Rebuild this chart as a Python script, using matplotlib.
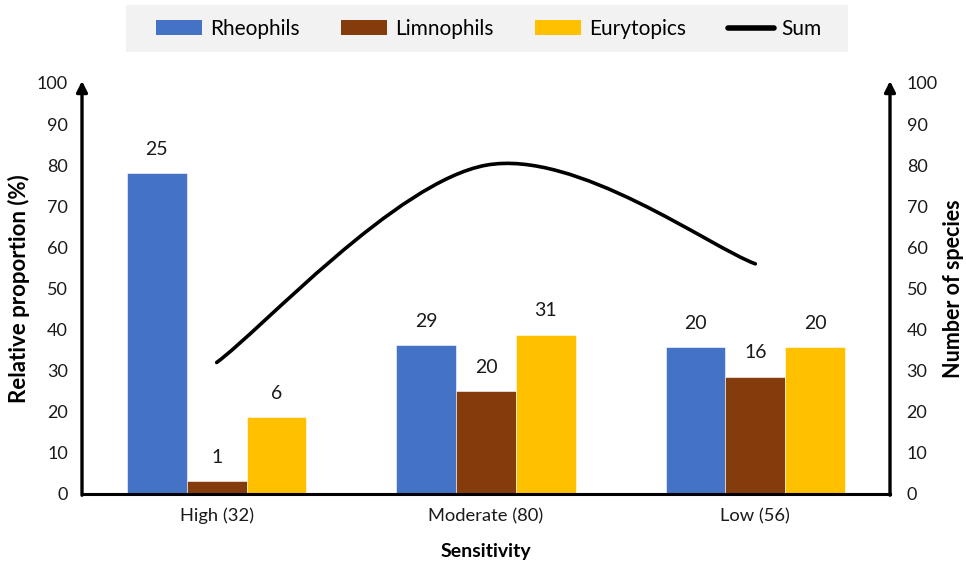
import matplotlib
matplotlib.use("Agg")
import matplotlib.pyplot as plt
import numpy as np
from matplotlib.patches import Patch, PathPatch, Rectangle
from matplotlib.lines import Line2D
from matplotlib.path import Path

plt.rcParams['font.family'] = ['Lato', 'DejaVu Sans']

categories = ["High (32)", "Moderate (80)", "Low (56)"]
totals = [32, 80, 56]
rheophils = [25, 29, 20]
limnophils = [1, 20, 16]
eurytopics = [6, 31, 20]
series_names = ["Rheophils", "Limnophils", "Eurytopics"]
colors = ["#4472C4", "#843C0C", "#FFC000"]

W, H = 966, 564
fig = plt.figure(figsize=(W / 100, H / 100), dpi=100)
ax = fig.add_axes([82 / W, 1 - 494 / H, (890 - 82) / W, (494 - 83) / H])
ax2 = ax.twinx()

x = np.arange(len(categories))
width = 0.222
counts = [rheophils, limnophils, eurytopics]
for i, (vals, col) in enumerate(zip(counts, colors)):
    pct = [100.0 * v / t for v, t in zip(vals, totals)]
    xs = x + (i - 1) * width
    ax.bar(xs, pct, width, color=col, edgecolor='white', linewidth=0.4, zorder=2)
    for xi, p, v in zip(xs, pct, vals):
        ax.annotate(str(v), (xi, p), xytext=(0, 11), textcoords='offset points',
                    ha='center', va='bottom', fontsize=14, color='#1a1a1a')

ax.set_xlim(-0.5, 2.5)
ax.set_ylim(0, 100)
ax2.set_ylim(0, 100)
ax.set_yticks(range(0, 101, 10))
ax2.set_yticks(range(0, 101, 10))
ax.set_xticks(x)
ax.set_xticklabels(categories)

# smooth curve through the totals (cubic Bezier, Catmull-Rom control points)
pts = np.column_stack([x, totals]).astype(float)
verts = [tuple(pts[0])]
codes = [Path.MOVETO]
n = len(pts)
for k in range(n - 1):
    p_prev = pts[k - 1] if k > 0 else pts[k]
    p_next2 = pts[k + 2] if k + 2 < n else pts[k + 1]
    c1 = pts[k] + (pts[k + 1] - p_prev) / 6.0
    c2 = pts[k + 1] - (p_next2 - pts[k]) / 6.0
    verts += [tuple(c1), tuple(c2), tuple(pts[k + 1])]
    codes += [Path.CURVE4] * 3
ax2.add_patch(PathPatch(Path(verts, codes), facecolor='none', edgecolor='black',
                        lw=2.6, capstyle='round', zorder=3))

for a in (ax, ax2):
    for s in ('top', 'left', 'right'):
        a.spines[s].set_visible(False)
    a.tick_params(length=0, labelsize=13, colors='#1a1a1a')
ax2.spines['bottom'].set_visible(False)
ax.spines['bottom'].set_linewidth(2.2)
ax.spines['bottom'].set_color('black')
ax.tick_params(axis='y', pad=10)
ax2.tick_params(axis='y', pad=12)
ax.tick_params(axis='x', pad=10, labelsize=13.2)

for xf in (0, 1):
    ax.annotate('', xy=(xf, 1.005), xytext=(xf, -0.003), xycoords='axes fraction',
                arrowprops=dict(arrowstyle='-|>', lw=2.4, color='black',
                                mutation_scale=16, shrinkA=0, shrinkB=0),
                annotation_clip=False, zorder=5)

ax.set_ylabel("Relative proportion (%)", fontsize=16, fontweight='bold')
ax2.set_ylabel("Number of species", fontsize=15.5, fontweight='bold')
ax.set_xlabel("Sensitivity", fontsize=14, fontweight='bold')
ax.yaxis.set_label_coords((30 - 82) / 808, 0.5)
ax2.yaxis.set_label_coords((943 - 82) / 808, 0.5)
ax.xaxis.set_label_coords(0.5, (494 - 543) / 411)

# legend band across the top
fig.add_artist(Rectangle((126 / W, 1 - 52 / H), (848 - 126) / W, 47 / H,
                         transform=fig.transFigure, facecolor='#F2F2F2',
                         edgecolor='none', zorder=0))
handles = [Patch(facecolor=c, edgecolor='none') for c in colors]
handles.append(Line2D([0], [0], color='black', lw=4, solid_capstyle='round'))
fig.legend(handles, series_names + ["Sum"], loc='center',
           bbox_to_anchor=(489 / W, 1 - 29 / H), ncol=4, frameon=False,
           fontsize=15, handlelength=2.2, handleheight=0.72, handletextpad=0.38,
           columnspacing=2.0, borderaxespad=0, borderpad=0)

fig.savefig("out.png", dpi=100)
